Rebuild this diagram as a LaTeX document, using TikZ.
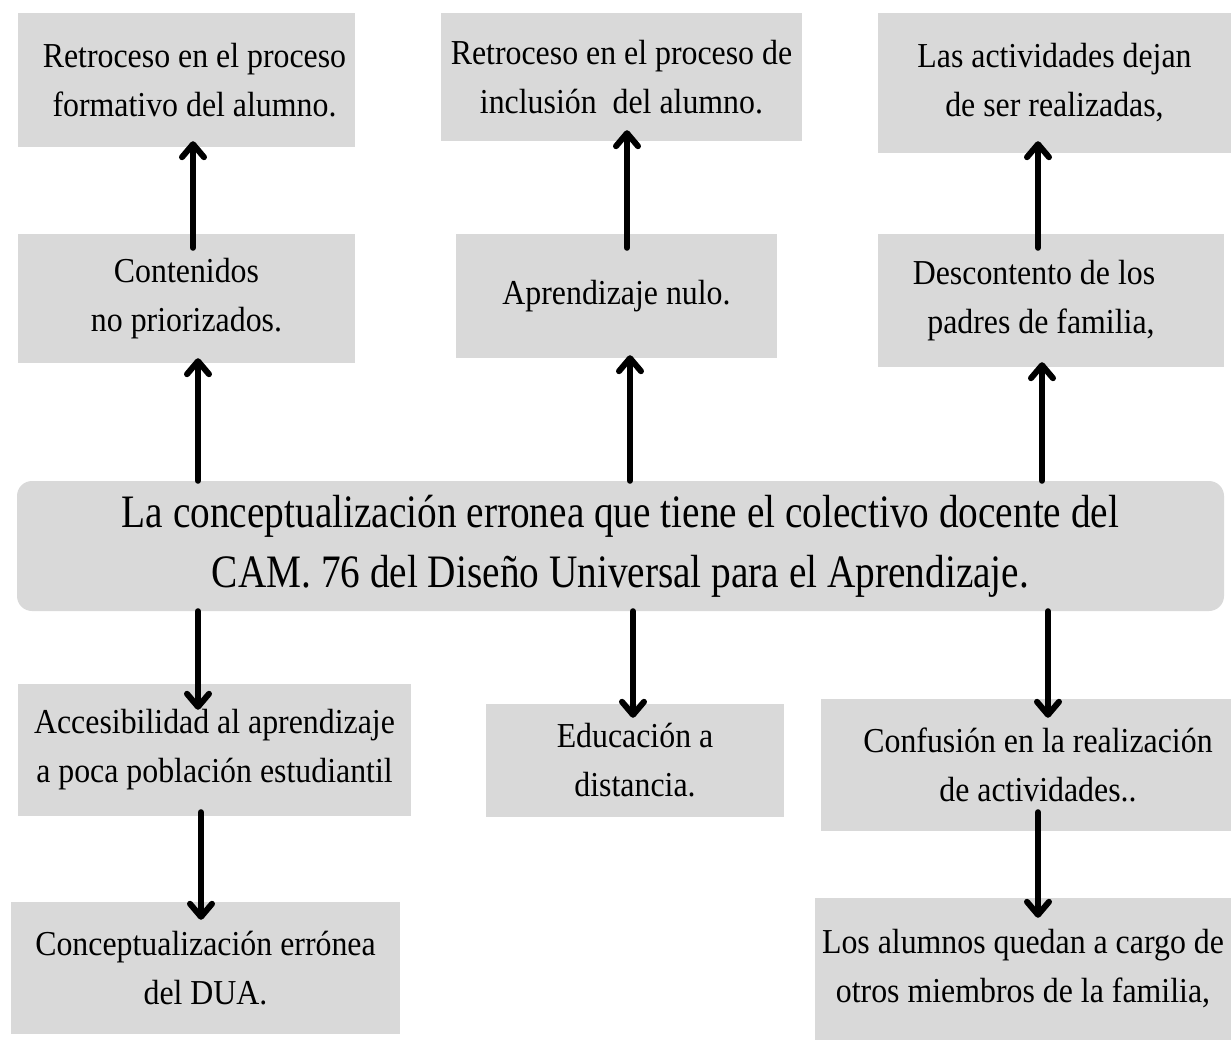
\documentclass[tikz,border=0pt]{standalone}
\usepackage{fontspec}
\setmainfont{Liberation Serif}[FakeStretch=0.91]
\newfontfamily\condfont{Liberation Serif}[FakeStretch=0.845]
\usetikzlibrary{arrows.meta,calc}
\definecolor{boxgray}{RGB}{217,217,217}
\begin{document}
\begin{tikzpicture}[x=1pt,y=-1pt,
  box/.style={fill=boxgray, inner sep=0pt, align=center, anchor=center,
    font=\fontsize{35}{49}\selectfont},
  mainbox/.style={fill=boxgray, inner sep=0pt, align=center, anchor=center,
    rounded corners=15pt, font=\condfont\fontsize{46.5}{60}\selectfont},
  arr/.style={line width=6pt, line cap=round,
    -{Straight Barb[length=13pt,width=22pt,line cap=round,line join=round]}}]
\useasboundingbox (0,0) rectangle (1231,1040);
% top row
\node[box, minimum width=337pt, minimum height=134pt] (TL) at (186.5,80)
  {\hspace*{16pt}Retroceso en el proceso\\\hspace*{16pt}formativo del alumno.};
\node[box, minimum width=361pt, minimum height=128pt] (TM) at (621.5,77)
  {Retroceso en el proceso de\\inclusión\ \ del alumno.};
\node[box, minimum width=353pt, minimum height=140pt] (TR) at (1054.5,83)
  {Las actividades dejan\\de ser realizadas,};
% middle row
\node[box, minimum width=337pt, minimum height=129pt] (ML) at (186.5,298.5)
  {Contenidos\\no priorizados.};
\node[box, minimum width=321pt, minimum height=124pt] (MM) at (616.5,296)
  {Aprendizaje nulo.};
\node[box, minimum width=346pt, minimum height=133pt] (MR) at (1051,300.5)
  {Descontento de los\hspace*{34pt}\\padres de familia,\hspace*{20pt}};
% central
\node[mainbox, minimum width=1207pt, minimum height=130pt] (C) at (620.5,546)
  {La conceptualización erronea que tiene el colectivo docente del\\CAM. 76 del Diseño Universal para el Aprendizaje.};
% bottom
\node[box, minimum width=393pt, minimum height=132pt] (BL1) at (214.5,750)
  {Accesibilidad al aprendizaje\\a poca población estudiantil};
\node[box, minimum width=298pt, minimum height=113pt] (BM) at (635,760.5)
  {Educación a\\distancia.};
\node[box, minimum width=410pt, minimum height=132pt] (BR1) at (1026,765)
  {\hspace*{24pt}Confusión en la realización\\\hspace*{24pt}de actividades..};
\node[box, minimum width=389pt, minimum height=132pt] (BL2) at (205.5,968)
  {Conceptualización errónea\\del DUA.};
\node[box, minimum width=416pt, minimum height=142pt] (BR2) at (1023,969)
  {Los alumnos quedan a cargo de\\otros miembros de la familia,};
% arrows
\draw[arr] ($(ML.north)+(6.5,14)$) -- ($(TL.south)+(6.5,-6)$);
\draw[arr] ($(C.north -| ML.south)+(11.5,0)$) -- ($(ML.south)+(11.5,-5)$);
\draw[arr] ($(MM.north)+(10.5,14)$) -- ($(TM.south)+(5.5,-11)$);
\draw[arr] ($(C.north -| MM.south)+(13.5,0)$) -- ($(MM.south)+(13.5,-3)$);
\draw[arr] ($(MR.north)+(-13,14)$) -- ($(TR.south)+(-16.5,-12)$);
\draw[arr] ($(C.north -| MR.south)+(-9,0)$) -- ($(MR.south)+(-9,-5)$);
\draw[arr] ($(C.south -| BL1.north)+(-16.5,0)$) -- ($(BL1.north)+(-16.5,26)$);
\draw[arr] ($(BL1.south)+(-13.5,-4)$) -- ($(BL2.north)+(-4.5,18)$);
\draw[arr] ($(C.south -| BM.north)+(-2,0)$) -- ($(BM.north)+(-2,14)$);
\draw[arr] ($(C.south -| BR1.north)+(22,0)$) -- ($(BR1.north)+(22,19)$);
\draw[arr] ($(BR1.south)+(12,-19)$) -- ($(BR2.north)+(15,20)$);
\end{tikzpicture}
\end{document}
